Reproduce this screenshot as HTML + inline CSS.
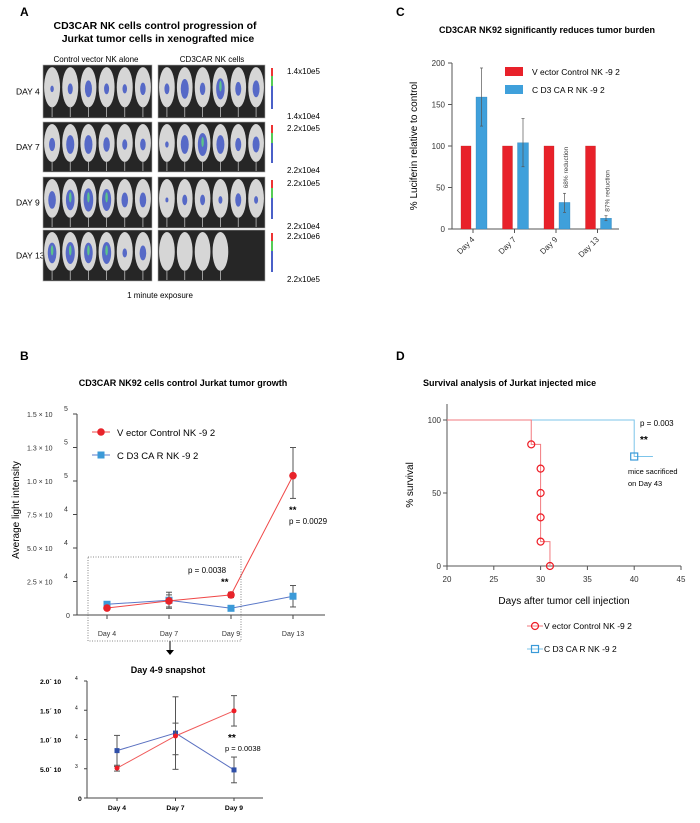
<!DOCTYPE html>
<html><head><meta charset="utf-8"><style>
body{margin:0;background:#fff}
svg text{font-family:"Liberation Sans",Arial,sans-serif}
</style></head><body>
<svg id="s" width="700" height="818" viewBox="0 0 700 818" xmlns="http://www.w3.org/2000/svg">
<g id="pa">
<text x="20" y="16" font-size="12" font-weight="bold">A</text>
<text x="155" y="29" font-size="10.5" font-weight="bold" text-anchor="middle">CD3CAR NK cells control progression of</text>
<text x="158" y="42" font-size="10.5" font-weight="bold" text-anchor="middle">Jurkat tumor cells in xenografted mice</text>
<text x="96" y="62" font-size="8" text-anchor="middle">Control vector NK alone</text>
<text x="212" y="62" font-size="8" text-anchor="middle">CD3CAR NK cells</text>
<text x="160" y="298" font-size="8" text-anchor="middle">1 minute exposure</text>
</g>
<g id="pb">
<text x="20" y="360" font-size="12" font-weight="bold">B</text>
<text x="183" y="386" font-size="9" font-weight="bold" text-anchor="middle">CD3CAR NK92 cells control Jurkat tumor growth</text>
<text transform="translate(19,510) rotate(-90)" font-size="10" text-anchor="middle">Average light intensity</text>
</g>
<g id="pc">
<text x="396" y="16" font-size="12" font-weight="bold">C</text>
<text x="547" y="33" font-size="9" font-weight="bold" text-anchor="middle">CD3CAR NK92 significantly reduces tumor burden</text>
<text transform="translate(417,146) rotate(-90)" font-size="10" text-anchor="middle">% Luciferin relative to control</text>
</g>
<g id="pd">
<text x="396" y="360" font-size="12" font-weight="bold">D</text>
<text x="423" y="386" font-size="9" font-weight="bold">Survival analysis of Jurkat injected mice</text>
<text transform="translate(413,485) rotate(-90)" font-size="10" text-anchor="middle">% survival</text>
<text x="564" y="604" font-size="10" text-anchor="middle">Days after tumor cell injection</text>
<text x="640" y="426" font-size="8">p = 0.003</text>
<text x="640" y="443" font-size="10" font-weight="bold">**</text>
<text x="628" y="474" font-size="7.5">mice sacrificed</text>
<text x="628" y="486" font-size="7.5">on Day 43</text>
</g>
</svg>
<script>
const NS='http://www.w3.org/2000/svg';
// ---- Panel B data
const bDays=['Day 4','Day 7','Day 9','Day 13'];
const bRed=[5200,10500,15000,104000];
const bRedLo=[4000,6000,13000,87000];
const bRedHi=[6500,15000,17000,125000];
const bBlue=[8000,11000,5000,14000];
const bBlueLo=[6000,5000,3500,6000];
const bBlueHi=[10000,17000,7000,22000];
const bTicks=[0,25000,50000,75000,100000,125000,150000];
const bTickMant=['0','2.5 × 10','5.0 × 10','7.5 × 10','1.0 × 10','1.3 × 10','1.5 × 10'];
const bTickExp=['','4','4','4','5','5','5'];
// ---- Snapshot data
const sDays=['Day 4','Day 7','Day 9'];
const sRed=[5100,10600,14900];
const sRedLo=[4600,7400,12300];
const sRedHi=[5600,12800,17500];
const sBlue=[8100,11100,4800];
const sBlueLo=[5400,4900,2600];
const sBlueHi=[10700,17300,7000];
const sTicks=[0,5000,10000,15000,20000];
const sTickMant=['0','5.0´ 10','1.0´ 10','1.5´ 10','2.0´ 10'];
const sTickExp=['','3','4','4','4'];
// ---- Panel C data
const cDays=['Day 4','Day 7','Day 9','Day 13'];
const cRed=[100,100,100,100];
const cBlue=[159,104,32,13];
const cBlueLo=[124,75,20,10];
const cBlueHi=[194,133,43,16];
const cTicks=[0,50,100,150,200];
// ---- Panel D data
const dRedX=[20,29,29,30,30,30,30,30,31,31];
const dRedY=[100,100,83.3,83.3,66.7,50,33.3,16.7,16.7,0];
const dRedMarkX=[29,30,30,30,30,31];
const dRedMarkY=[83.3,66.7,50,33.3,16.7,0];
const dBlueX=[20,40,40,42];
const dBlueY=[100,100,75,75];
const dBlueMarkX=[40];
const dBlueMarkY=[75];
const dXTicks=[20,25,30,35,40,45];
const dYTicks=[0,50,100];
// ---- Panel A data
const aDays=['DAY 4','DAY 7','DAY 9','DAY 13'];
const aScaleHi=['1.4x10e5','2.2x10e5','2.2x10e5','2.2x10e6'];
const aScaleLo=['1.4x10e4','2.2x10e4','2.2x10e4','2.2x10e5'];

const svg=document.getElementById('s');
function el(t,a,p){const e=document.createElementNS(NS,t);for(const k in a)e.setAttribute(k,a[k]);(p||svg).appendChild(e);return e;}
function txt(s,a,p){const e=el('text',a,p);e.textContent=s;return e;}

// ===== Panel A
const pa=document.getElementById('pa');
const rowsY=[[65,118],[122,172],[177,228],[230,281]];
const groupsX=[[43,152],[158,265]];
const blobs=[[0.15,0.3,0.5,0.3,0.25,0.35],[0.4,0.6,0.6,0.45,0.3,0.35],[0.55,0.65,0.75,0.7,0.45,0.45],[0.65,0.7,0.65,0.7,0.25,0.45]];
const blobsR=[[0.3,0.6,0.35,0.65,0.4,0.5],[0.15,0.6,0.75,0.6,0.4,0.5],[0.1,0.3,0.3,0.2,0.4,0.2],[0,0,0,0,-1,-1]];
aDays.forEach((d,r)=>{
  const [y0,y1]=rowsY[r];
  const t=txt(d,{x:16,y:(y0+y1)/2+3,'font-size':8.5},pa);
  
  
  groupsX.forEach((g,gi)=>{
    const rc=el('rect',{x:g[0],y:y0,width:g[1]-g[0],height:y1-y0,fill:'#262626',stroke:'#aaa','stroke-width':0.6},pa);
    
    
    const w=(g[1]-g[0])/6;
    for(let m=0;m<6;m++){
      const lvl=(gi?blobsR:blobs)[r][m];
      if(lvl<0)continue;
      const cx=g[0]+w*(m+0.5),h=y1-y0;
      el('ellipse',{cx:cx,cy:y0+h*0.42,rx:w*0.44,ry:h*0.38,fill:'#d6d6d6'},pa);
      el('line',{x1:cx,y1:y0+h*0.78,x2:cx,y2:y1-1,stroke:'#bbb','stroke-width':0.8},pa);
      if(lvl>0){
        el('ellipse',{cx:cx,cy:y0+h*0.45,rx:w*0.28*lvl+1,ry:h*0.28*lvl+1,fill:'#4056c4',opacity:0.85},pa);
        if(lvl>0.6)el('ellipse',{cx:cx,cy:y0+h*0.4,rx:w*0.07,ry:h*0.1,fill:'#5cc48a'},pa);
      }
    }
  });
  const cb=el('rect',{x:271,y:y0+3,width:2,height:y1-y0-12,fill:'#4a60c8'},pa);
  
  
  el('rect',{x:271,y:y0+3,width:2,height:8,fill:'#e33'},pa);
  el('rect',{x:271,y:y0+11,width:2,height:10,fill:'#5c5'},pa);
  const h1=txt(aScaleHi[r],{x:287,y:y0+9,'font-size':8},pa);
  
  
  const l1=txt(aScaleLo[r],{x:287,y:y1+1,'font-size':8},pa);
  
  
});

// ===== Panel B
const pb=document.getElementById('pb');
const bx=i=>107+i*62, by=v=>615-v*(201/150000);
el('line',{x1:77,y1:414,x2:77,y2:615,stroke:'#444','stroke-width':1},pb);
el('line',{x1:77,y1:615,x2:325,y2:615,stroke:'#444','stroke-width':1},pb);
bTicks.forEach((v,i)=>{
  el('line',{x1:73,y1:by(v),x2:77,y2:by(v),stroke:'#444'},pb);
  const t=txt(bTickMant[i],{x:i?27:66,y:by(v)+3,'font-size':7,fill:'#333'},pb);
  
  
  if(bTickExp[i]){const e=txt(bTickExp[i],{x:64,y:by(v)-3,'font-size':7,fill:'#333'},pb);}
});
bDays.forEach((d,i)=>{
  el('line',{x1:bx(i),y1:615,x2:bx(i),y2:619,stroke:'#444'},pb);
  const t=txt(d,{x:bx(i),y:636,'font-size':7,'text-anchor':'middle',fill:'#333'},pb);
  
  
});
function series(vals,lo,hi,xf,yf,col,lineCol,shape,size,p,name){
  const pts=vals.map((v,i)=>xf(i)+','+yf(v)).join(' ');
  const pl=el('polyline',{points:pts,fill:'none',stroke:lineCol,'stroke-width':1},p);
  
  
  vals.forEach((v,i)=>{
    el('line',{x1:xf(i),y1:yf(lo[i]),x2:xf(i),y2:yf(hi[i]),stroke:'#555','stroke-width':1},p);
    el('line',{x1:xf(i)-3,y1:yf(lo[i]),x2:xf(i)+3,y2:yf(lo[i]),stroke:'#555'},p);
    el('line',{x1:xf(i)-3,y1:yf(hi[i]),x2:xf(i)+3,y2:yf(hi[i]),stroke:'#555'},p);
  });
  vals.forEach((v,i)=>{
    let m;
    if(shape==='c')m=el('circle',{cx:xf(i),cy:yf(v),r:size,fill:col},p);
    else m=el('rect',{x:xf(i)-size,y:yf(v)-size,width:size*2,height:size*2,fill:col},p);
    
    
  });
}
series(bBlue,bBlueLo,bBlueHi,bx,by,'#3b9ad8','#5a78c8','s',3.5,pb,'cd3car-b');
series(bRed,bRedLo,bRedHi,bx,by,'#e8232a','#f04848','c',3.8,pb,'vector-control-b');
// legend B
el('line',{x1:92,y1:432,x2:110,y2:432,stroke:'#f04848'},pb);
el('circle',{cx:101,cy:432,r:3.8,fill:'#e8232a'},pb);
const lb1=txt('V ector Control NK -9 2',{x:117,y:436,'font-size':9.5},pb);

el('line',{x1:92,y1:455,x2:110,y2:455,stroke:'#5a78c8'},pb);
el('rect',{x:97.5,y:451.5,width:7,height:7,fill:'#3b9ad8'},pb);
const lb2=txt('C D3 CA R  NK -9 2',{x:117,y:459,'font-size':9.5},pb);

// box + annotations
const bx2=el('rect',{x:88,y:557,width:153,height:84,fill:'none',stroke:'#666','stroke-dasharray':'1,1.5','stroke-width':0.8},pb);

el('line',{x1:170,y1:641,x2:170,y2:650,stroke:'#000'},pb);
el('polygon',{points:'166,650 174,650 170,655',fill:'#000'},pb);
const p1=txt('p = 0.0038',{x:188,y:573,'font-size':8},pb);
const s1=txt('**',{x:221,y:585,'font-size':9.5,'font-weight':'bold'},pb);
const s2=txt('**',{x:289,y:513,'font-size':9.5,'font-weight':'bold'},pb);
const p2=txt('p = 0.0029',{x:289,y:524,'font-size':8},pb);

// ===== Snapshot
const sg=el('g',{});


const st=txt('Day 4-9 snapshot',{x:168,y:673,'font-size':9,'font-weight':'bold','text-anchor':'middle'},sg);

const sx=i=>117+i*58.5, sy=v=>798-v*(117/20000);
el('line',{x1:87,y1:681,x2:87,y2:798,stroke:'#444'},sg);
el('line',{x1:87,y1:798,x2:263,y2:798,stroke:'#444'},sg);
sTicks.forEach((v,i)=>{
  el('line',{x1:84,y1:sy(v),x2:87,y2:sy(v),stroke:'#444'},sg);
  const t=txt(sTickMant[i],{x:i?40:78,y:sy(v)+3,'font-size':6.8,'font-weight':'bold'},sg);
  
  if(sTickExp[i]){const e=txt(sTickExp[i],{x:75,y:sy(v)-1,'font-size':5},sg);}
});
sDays.forEach((d,i)=>{
  el('line',{x1:sx(i),y1:798,x2:sx(i),y2:801,stroke:'#444'},sg);
  const t=txt(d,{x:sx(i),y:810,'font-size':6.8,'font-weight':'bold','text-anchor':'middle'},sg);
  
});
series(sBlue,sBlueLo,sBlueHi,sx,sy,'#2f4fa8','#5a70c0','s',2.5,sg,'cd3car-snapshot');
series(sRed,sRedLo,sRedHi,sx,sy,'#ee1c25','#f05a5a','c',2.5,sg,'vector-control-snapshot');
const s3=txt('**',{x:228,y:741,'font-size':10,'font-weight':'bold'},sg);
const p3=txt('p = 0.0038',{x:225,y:751,'font-size':7.5},sg);

// ===== Panel C
const pc=document.getElementById('pc');
const cy=v=>229-v*(166/200), cg=i=>473+i*41.5;
el('line',{x1:452,y1:63,x2:452,y2:229,stroke:'#555'},pc);
el('line',{x1:452,y1:229,x2:619,y2:229,stroke:'#555'},pc);
cTicks.forEach(v=>{
  el('line',{x1:448,y1:cy(v),x2:452,y2:cy(v),stroke:'#555'},pc);
  const t=txt(String(v),{x:445,y:cy(v)+3,'font-size':8,'text-anchor':'end',fill:'#333'},pc);
  
});
cDays.forEach((d,i)=>{
  const g=cg(i);
  el('line',{x1:g,y1:229,x2:g,y2:233,stroke:'#555'},pc);
  const r=el('rect',{x:g-12,y:cy(cRed[i]),width:10,height:229-cy(cRed[i]),fill:'#e8212a',stroke:'#b22','stroke-width':0.3},pc);
  
  const b=el('rect',{x:g+3,y:cy(cBlue[i]),width:11,height:229-cy(cBlue[i]),fill:'#3fa0db',stroke:'#2a7ab0','stroke-width':0.3},pc);
  
  const bc=g+8.5;
  el('line',{x1:bc,y1:cy(cBlueLo[i]),x2:bc,y2:cy(cBlueHi[i]),stroke:'#555','stroke-width':0.7},pc);
  el('line',{x1:bc-1.5,y1:cy(cBlueLo[i]),x2:bc+1.5,y2:cy(cBlueLo[i]),stroke:'#555','stroke-width':0.7},pc);
  el('line',{x1:bc-1.5,y1:cy(cBlueHi[i]),x2:bc+1.5,y2:cy(cBlueHi[i]),stroke:'#555','stroke-width':0.7},pc);
  const t=txt(d,{transform:`translate(${g+2},${240}) rotate(-45)`,'font-size':8,'text-anchor':'end',fill:'#333'},pc);
  
});
const r1=txt('68% reduction',{transform:`translate(${cg(2)+12},${cy(cBlueHi[2])-5}) rotate(-90)`,'font-size':6.5,fill:'#444'},pc);

const r2=txt('87% reduction',{transform:`translate(${cg(3)+12},${cy(cBlueHi[3])-4}) rotate(-90)`,'font-size':6.5,fill:'#444'},pc);

el('rect',{x:505,y:67,width:18,height:9,fill:'#e8212a'},pc);
const cl1=txt('V ector Control  NK -9 2',{x:532,y:75,'font-size':8.5},pc);
el('rect',{x:505,y:85,width:18,height:9,fill:'#3fa0db'},pc);
const cl2=txt('C D3 CA R  NK -9 2',{x:532,y:93,'font-size':8.5},pc);

// ===== Panel D
const pd=document.getElementById('pd');
const dx=v=>447+(v-20)*(234/25), dy=v=>566-v*1.46;
el('line',{x1:447,y1:404,x2:447,y2:566,stroke:'#555'},pd);
el('line',{x1:447,y1:566,x2:681,y2:566,stroke:'#555'},pd);
dYTicks.forEach(v=>{
  el('line',{x1:443,y1:dy(v),x2:447,y2:dy(v),stroke:'#555'},pd);
  const t=txt(String(v),{x:441,y:dy(v)+3,'font-size':8,'text-anchor':'end',fill:'#333'},pd);
  
});
dXTicks.forEach(v=>{
  el('line',{x1:dx(v),y1:566,x2:dx(v),y2:570,stroke:'#555'},pd);
  const t=txt(String(v),{x:dx(v),y:582,'font-size':8,'text-anchor':'middle',fill:'#333'},pd);
  
});
const bl=el('polyline',{points:dBlueX.map((x,i)=>dx(x)+','+dy(dBlueY[i])).join(' '),fill:'none',stroke:'#7cc4ea','stroke-width':1},pd);

const rl=el('polyline',{points:dRedX.map((x,i)=>dx(x)+','+dy(dRedY[i])).join(' '),fill:'none',stroke:'#f27a7f','stroke-width':1},pd);

dRedMarkX.forEach((x,i)=>{
  const c=el('circle',{cx:dx(x),cy:dy(dRedMarkY[i]),r:3.5,fill:'none',stroke:'#ee1c25','stroke-width':1.2},pd);
  
});
dBlueMarkX.forEach((x,i)=>{
  const c=el('rect',{x:dx(x)-3.5,y:dy(dBlueMarkY[i])-3.5,width:7,height:7,fill:'none',stroke:'#3a9ad8','stroke-width':1.2},pd);
  
});
el('line',{x1:527,y1:626,x2:543,y2:626,stroke:'#f27a7f'},pd);
el('circle',{cx:535,cy:626,r:3.5,fill:'none',stroke:'#ee1c25','stroke-width':1.2},pd);
const dl1=txt('V ector Control  NK -9 2',{x:544,y:629,'font-size':8.5},pd);
el('line',{x1:527,y1:649,x2:543,y2:649,stroke:'#7cc4ea'},pd);
el('rect',{x:531.5,y:645.5,width:7,height:7,fill:'none',stroke:'#3a9ad8','stroke-width':1.2},pd);
const dl2=txt('C D3 CA R  NK -9 2',{x:544,y:652,'font-size':8.5},pd);
</script>
</body></html>
